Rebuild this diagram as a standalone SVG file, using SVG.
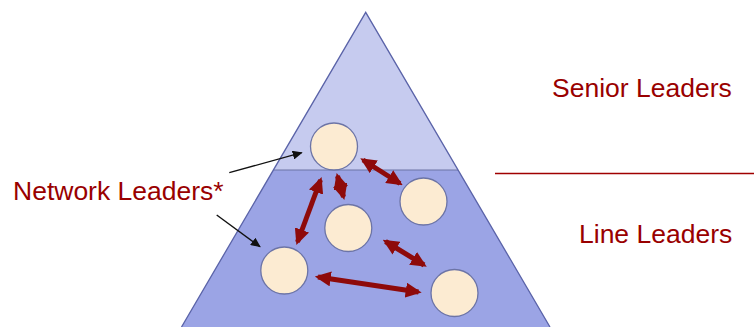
<svg xmlns="http://www.w3.org/2000/svg" width="754" height="327" viewBox="0 0 754 327">
<style>
.lbl{font-family:"Liberation Sans",Arial,sans-serif;font-size:26.5px;fill:#990000}
.node{fill:#FCEBD2;stroke:#6C74A6;stroke-width:1.3}
.red{stroke:#8E0A0A;stroke-width:5;fill:none;marker-start:url(#rh);marker-end:url(#rh)}
.blk{stroke:#111;stroke-width:1.4;fill:none;marker-end:url(#bh)}
</style>
<defs>
<marker id="rh" viewBox="0 0 10 10" refX="8" refY="5" markerWidth="3.2" markerHeight="3" orient="auto-start-reverse" markerUnits="strokeWidth" preserveAspectRatio="none">
<path d="M0,0 L10,5 L0,10 z" fill="#8E0A0A"/>
</marker>
<marker id="bh" viewBox="0 0 10 10" refX="9" refY="5" markerWidth="10" markerHeight="9" orient="auto" markerUnits="userSpaceOnUse" preserveAspectRatio="none">
<path d="M0,0 L10,5 L0,10 z" fill="#111"/>
</marker>
</defs>
<g id="pyramid">
<polygon points="365.7,12.3 458,170 273.5,170" fill="#C6CBEF"/>
<polygon points="273.5,170 458,170 550,327 181.5,327" fill="#9BA4E5"/>
<line x1="273.5" y1="170" x2="458" y2="170" stroke="#6C74A6" stroke-width="1.2"/>
<polyline points="181.5,327 365.7,12.3 550,327" fill="none" stroke="#5A63A8" stroke-width="1.3"/>
</g>
<g id="divider">
<line x1="495" y1="173.5" x2="754" y2="173.5" stroke="#A00000" stroke-width="1.5"/>
</g>
<g id="senior-leaders"><text class="lbl" x="552" y="97">Senior Leaders</text></g>
<g id="line-leaders"><text class="lbl" x="579" y="243">Line Leaders</text></g>
<g id="network-leaders"><text class="lbl" x="13" y="200">Network Leaders*</text></g>
<g id="n1"><circle class="node" cx="334" cy="146.5" r="23.5"/></g>
<g id="n2"><circle class="node" cx="423.5" cy="201.5" r="23.5"/></g>
<g id="n3"><circle class="node" cx="348.3" cy="228" r="23.5"/></g>
<g id="n4"><circle class="node" cx="284.3" cy="270.5" r="23.5"/></g>
<g id="n5"><circle class="node" cx="454.5" cy="293" r="23.5"/></g>
<g id="connectors">
<line class="red" x1="363" y1="160" x2="400" y2="183.5"/>
<line class="red" x1="337.5" y1="176" x2="343.5" y2="197"/>
<line class="red" x1="320.5" y1="180" x2="297.5" y2="242"/>
<line class="red" x1="385.5" y1="241.5" x2="424" y2="265"/>
<line class="red" x1="318" y1="277" x2="418.5" y2="292"/>
<line class="blk" x1="229.3" y1="172.7" x2="301.7" y2="152.7"/>
<line class="blk" x1="216.7" y1="215" x2="260" y2="246.7"/>
</g>
</svg>
